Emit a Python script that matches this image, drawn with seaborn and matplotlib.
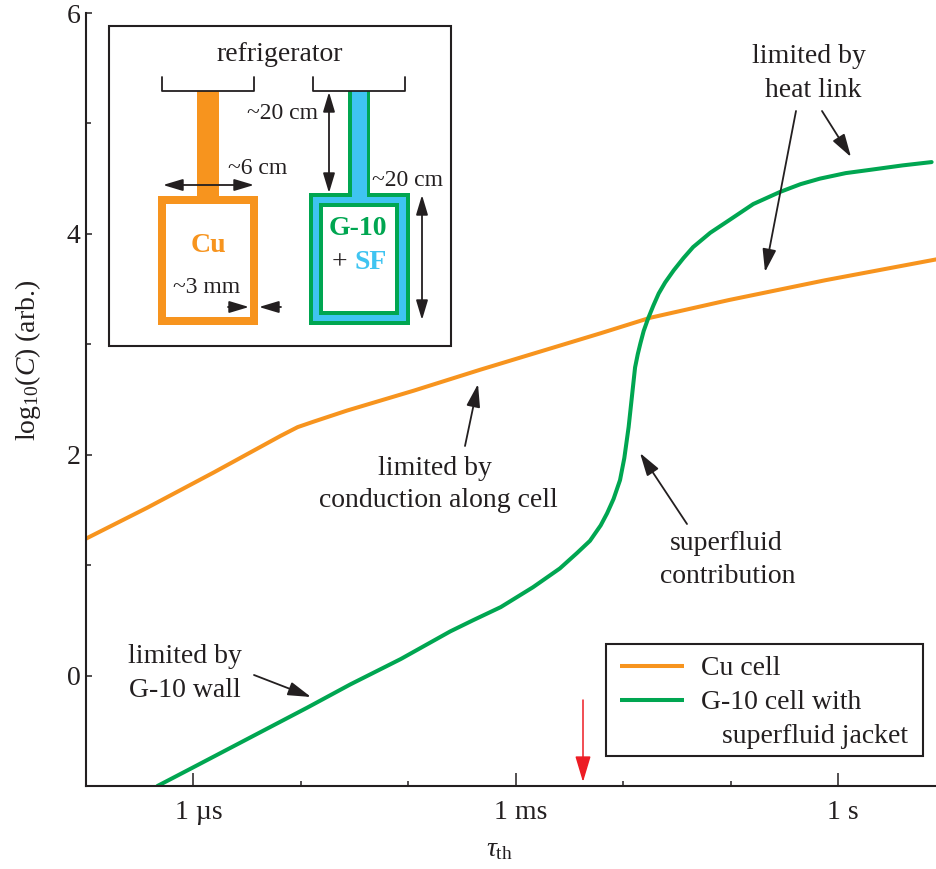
import matplotlib
matplotlib.use('Agg')
import matplotlib.pyplot as plt
from matplotlib.lines import Line2D
from matplotlib.patches import Rectangle
from matplotlib.transforms import ScaledTranslation
import seaborn as sns

# courbes : log10(tau) en secondes, log10(C)
cu_x = [-7.0, -6.43, -5.81, -5.19, -5.03, -4.88, -4.57, -3.95, -3.33, -2.21, -1.75, -1.02, -0.12, 0.92]
cu_y = [1.24, 1.52, 1.84, 2.17, 2.25, 2.30, 2.40, 2.58, 2.77, 3.10, 3.24, 3.40, 3.58, 3.77]
g10_x = [-6.335, -6.0, -5.47, -4.94, -4.54, -4.07, -3.61, -3.40, -3.14, -2.84, -2.59, -2.43, -2.31, -2.21,
         -2.15, -2.09, -2.03, -1.99, -1.95, -1.92, -1.89, -1.865, -1.84, -1.81, -1.77, -1.72, -1.67, -1.61,
         -1.53, -1.44, -1.35, -1.19, -1.02, -0.79, -0.54, -0.35, -0.17, 0.07, 0.30, 0.60, 0.87]
g10_y = [-1.0, -0.83, -0.56, -0.29, -0.08, 0.15, 0.40, 0.50, 0.62, 0.80, 0.97, 1.11, 1.22, 1.36,
         1.47, 1.60, 1.77, 1.97, 2.25, 2.52, 2.79, 2.91, 3.01, 3.12, 3.23, 3.35, 3.46, 3.56,
         3.67, 3.78, 3.88, 4.01, 4.12, 4.27, 4.38, 4.45, 4.50, 4.55, 4.58, 4.62, 4.65]

x_major = [-6, -3, 0]
x_labels = ['1 µs', '1 ms', '1 s']
x_minor = [-5, -4, -2, -1]
y_major = [0, 2, 4, 6]
y_minor = [1, 3, 5]

ORANGE = '#F7941E'
GREEN = '#00A651'
BLUE = '#3FC4F1'
INK = '#231F20'
RED = '#ED1C24'

sns.set_theme(style='ticks')
plt.rcParams['font.family'] = ['Liberation Serif', 'DejaVu Serif']
plt.rcParams['mathtext.fontset'] = 'custom'
plt.rcParams['mathtext.rm'] = 'Liberation Serif'
plt.rcParams['mathtext.it'] = 'Liberation Serif:italic'
plt.rcParams['text.color'] = INK
plt.rcParams['axes.labelcolor'] = INK

W, H = 937, 869
fig = plt.figure(figsize=(W / 100, H / 100), dpi=100)
ax = fig.add_axes([86 / W, (H - 786) / H, 851 / W, 773 / H])

# couche en pixels pour le schema et les annotations
ov = fig.add_axes([0, 0, 1, 1], zorder=5)
ov.set_xlim(0, W)
ov.set_ylim(H, 0)
ov.axis('off')

sns.lineplot(x=cu_x, y=cu_y, ax=ax, color=ORANGE, lw=2.9, sort=False, estimator=None, label='Cu cell')
sns.lineplot(x=g10_x, y=g10_y, ax=ax, color=GREEN, lw=2.9, sort=False, estimator=None, label='G-10 cell with')

ax.set_xlim(-7.0, 0.92)
ax.set_ylim(-1, 6)
sns.despine(ax=ax)
for s in ['left', 'bottom']:
    ax.spines[s].set_linewidth(1.5)
    ax.spines[s].set_color(INK)

ax.set_xticks(x_major)
ax.set_xticklabels(x_labels)
ax.set_xticks(x_minor, minor=True)
ax.set_yticks(y_major)
ax.set_yticks(y_minor, minor=True)
ax.tick_params(axis='x', which='major', direction='in', length=9.4, width=1.1, color=INK,
               labelsize=20, labelcolor=INK, pad=10.4)
ax.tick_params(axis='x', which='minor', direction='in', length=3.6, width=1.1, color=INK)
ax.tick_params(axis='y', which='major', direction='in', length=4.3, width=1.1, color=INK,
               labelsize=20, labelcolor=INK, pad=4)
ax.tick_params(axis='y', which='minor', direction='in', length=3.6, width=1.1, color=INK)
for lab in ax.get_xticklabels():
    lab.set_transform(lab.get_transform() + ScaledTranslation(5 / 100, 0, fig.dpi_scale_trans))

ax.set_xlabel(r'$\tau_{\mathrm{th}}$', fontsize=20, va='center')
ax.xaxis.set_label_coords((499 - 86) / 851, (786 - 850) / 773)
ax.set_ylabel(r'log$_{10}$($C$) (arb.)', fontsize=20)
ax.yaxis.set_label_coords((43 - 86) / 851, (786 - 360) / 773)

# legende sans cadre : troisieme ligne sans trace, cadre dessine a part
h, l = ax.get_legend_handles_labels()
h.append(Line2D([], [], color='none'))
l.append('   superfluid jacket')
leg = ax.legend(h, l, loc='upper left', bbox_to_anchor=(620, 656), bbox_transform=ov.transData,
                borderaxespad=0, fontsize=20, frameon=False, handlelength=2.3, handletextpad=0.62,
                borderpad=0, labelspacing=0.3)
for line in leg.get_lines():
    line.set_solid_capstyle('butt')
ov.add_patch(Rectangle((606, 644), 317, 112, facecolor='none', edgecolor=INK, lw=1.5))


def rect(x0, y0, x1, y1, color, **kw):
    ov.add_patch(Rectangle((x0, y0), x1 - x0, y1 - y0, facecolor=color, edgecolor='none', **kw))


def arrow(start, end, color=INK, lw=1.3, style='-|>,head_length=1,head_width=0.3', scale=12):
    ov.annotate('', xy=end, xytext=start,
                arrowprops=dict(arrowstyle=style, mutation_scale=scale, color=color, lw=lw,
                                shrinkA=0, shrinkB=0))


def txt(x, y, s, color=INK, ha='center', fs=20, **kw):
    ov.text(x, y, s, color=color, ha=ha, va='baseline', fontsize=fs, **kw)


# encadre
ov.add_patch(Rectangle((109.5, 26), 342, 320, facecolor='white', edgecolor=INK, lw=1.5))
txt(280, 61, 'refrigerator')
for a, b in [(162, 254), (313, 405)]:
    ov.plot([a, a, b, b], [77, 91, 91, 77], color=INK, lw=1.3)

# cellule Cu
rect(197, 91, 219, 200, ORANGE)
rect(158, 196, 258, 325, ORANGE)
rect(166, 204, 250, 317, 'white')
txt(208, 252, 'Cu', color=ORANGE, fontweight='bold')

# cellule G-10
rect(348, 91, 370, 200, GREEN)
rect(309, 193, 410, 325, GREEN)
rect(313, 197, 406, 321, BLUE)
rect(352, 91, 367, 200, BLUE)
rect(319, 203, 399, 315, GREEN)
rect(323, 207, 395, 311, 'white')
txt(358, 235, 'G-10', color=GREEN, fontweight='bold')
txt(339, 269, '+')
txt(371, 269, 'SF', color=BLUE, fontweight='bold')

txt(283, 119, '~20 cm', fs=17)
txt(258, 174, '~6 cm', fs=17)
txt(408, 186, '~20 cm', fs=17)
txt(207, 293, '~3 mm', fs=17)

both = '<|-|>,head_length=1,head_width=0.3'
arrow((329, 92), (329, 193), style=both)
arrow((163, 185), (254, 185), style=both)
arrow((422, 195), (422, 320), style=both)
arrow((228, 307), (249, 307))
arrow((281, 307), (259, 307))

# annotations du graphe
txt(809, 63, 'limited by')
txt(813, 97, 'heat link')
arrow((796, 111), (765, 272), scale=14)
arrow((822, 111), (851, 157), scale=14)
txt(435, 475, 'limited by')
txt(438, 507, 'conduction along cell')
arrow((465, 446), (478, 384), scale=14)
txt(726, 550, 'superfluid')
txt(728, 583, 'contribution')
arrow((687, 524), (640, 453), scale=14)
txt(185, 663, 'limited by')
txt(185, 697, 'G-10 wall')
arrow((254, 675), (311, 697), scale=14)
arrow((583, 700), (583, 782), color=RED, lw=1.1, scale=16)

plt.savefig('out.png', dpi=100)
